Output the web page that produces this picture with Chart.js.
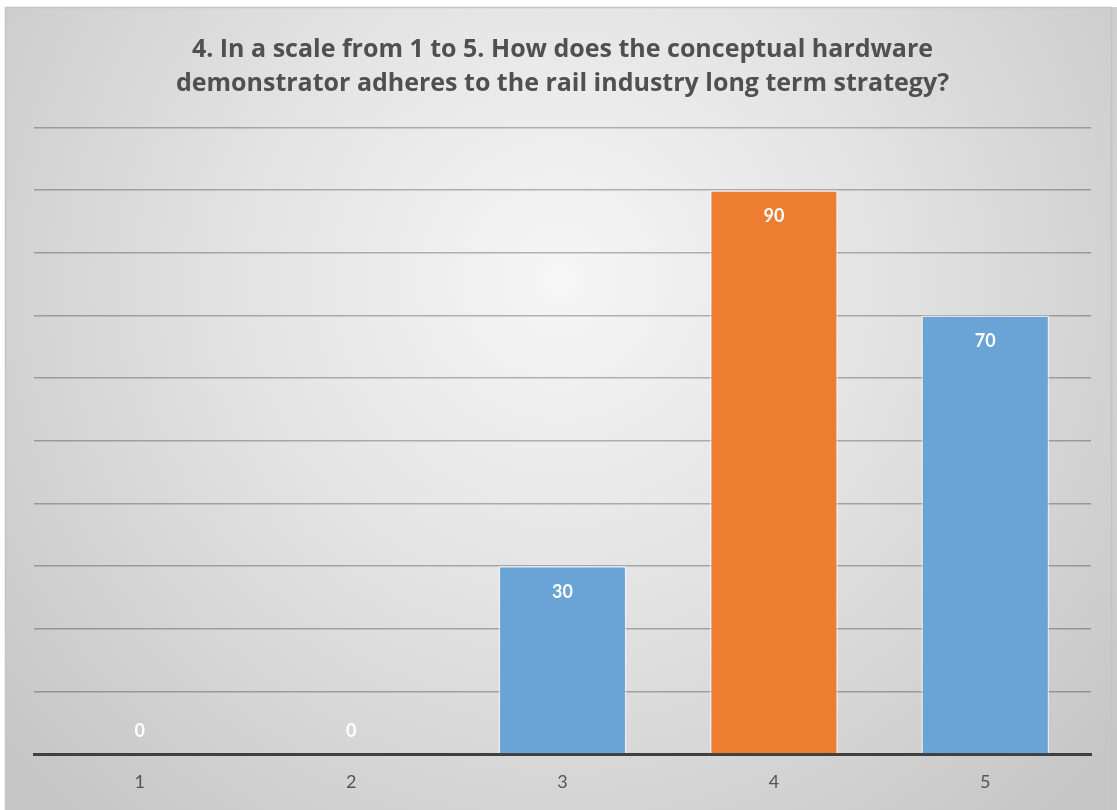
<!DOCTYPE html>
<html>
<head>
<meta charset="utf-8">
<script src="https://cdn.jsdelivr.net/npm/chart.js@4/dist/chart.umd.min.js"></script>
<style>
  html, body { margin: 0; padding: 0; background: #ffffff; }
  #wrap { position: relative; width: 1117px; height: 810px; }
</style>
</head>
<body>
<div id="wrap"><canvas id="c"></canvas></div>
<script>
// Survey question 4: answers on a 1–5 scale
const titleLines = [
  '4. In a scale from 1 to 5. How does the conceptual hardware',
  'demonstrator adheres to the rail industry long term strategy?'
];
const categories = ['1', '2', '3', '4', '5'];
const responses = [0, 0, 30, 90, 70];
const barColors = ['#6aa3d6', '#6aa3d6', '#6aa3d6', '#ed7d31', '#6aa3d6'];

// Panel background: soft radial shading inside a thin frame
const panelBackground = {
  id: 'panelBackground',
  beforeDraw(chart) {
    const ctx = chart.ctx;
    const x0 = 5, y0 = 7, x1 = chart.width, y1 = chart.height;
    ctx.save();
    const g = ctx.createRadialGradient(560, 280, 0, 560, 280, 720);
    g.addColorStop(0, '#f6f6f6');
    g.addColorStop(0.45, '#e3e3e3');
    g.addColorStop(1, '#c6c6c6');
    ctx.fillStyle = g;
    ctx.fillRect(x0, y0, x1 - x0, y1 - y0);
    ctx.strokeStyle = '#c4c4c4';
    ctx.lineWidth = 1.5;
    ctx.strokeRect(x0 + 0.5, y0 + 0.5, x1 - x0 - 6, y1 - y0 + 5);
    ctx.restore();
  }
};

// Value labels placed inside the top end of each bar
const valueLabels = {
  id: 'valueLabels',
  afterDraw(chart) {
    const ctx = chart.ctx;
    const meta = chart.getDatasetMeta(0);
    ctx.save();
    ctx.font = 'bold 18px Lato, "Open Sans", sans-serif';
    ctx.fillStyle = '#ffffff';
    ctx.textAlign = 'center';
    ctx.textBaseline = 'middle';
    meta.data.forEach((bar, i) => {
      const v = responses[i];
      const y = v > 0 ? bar.y + 26 : bar.base - 23;
      ctx.fillText(String(v), bar.x, y);
    });
    ctx.restore();
  }
};

new Chart(document.getElementById('c'), {
  type: 'bar',
  data: {
    labels: categories,
    datasets: [{
      data: responses,
      backgroundColor: barColors,
      borderColor: 'rgba(255,255,255,0.55)',
      borderWidth: 1.5,
      categoryPercentage: 1,
      barPercentage: 0.605
    }]
  },
  options: {
    responsive: true,
    maintainAspectRatio: false,
    animation: false,
    layout: { padding: { left: 34, right: 26, top: 0, bottom: 0 } },
    plugins: {
      legend: { display: false },
      tooltip: { enabled: false },
      title: {
        display: true,
        text: titleLines,
        color: '#505050',
        font: { family: '"Open Sans", Lato, sans-serif', size: 25, weight: 'bold', lineHeight: 1.35 },
        padding: { top: 33, bottom: 27 }
      }
    },
    scales: {
      x: {
        z: 1,
        grid: { display: false, drawTicks: false },
        border: { display: true, color: '#404040', width: 3 },
        ticks: { color: '#555555', font: { family: 'Lato, "Open Sans", sans-serif', size: 18, lineHeight: 1.0 }, padding: 19 }
      },
      y: {
        z: 1,
        min: 0,
        max: 100,
        ticks: { display: false, stepSize: 10 },
        border: { display: false },
        grid: { color: 'rgba(0,0,0,0.27)', lineWidth: 1.5, drawTicks: false }
      }
    }
  },
  plugins: [panelBackground, valueLabels]
});
</script>
</body>
</html>
